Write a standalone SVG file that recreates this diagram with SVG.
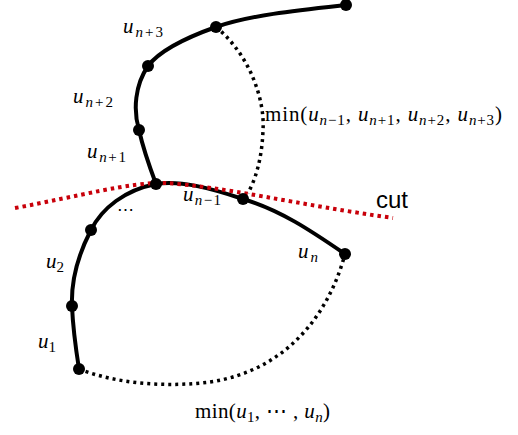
<svg xmlns="http://www.w3.org/2000/svg" width="518" height="435" viewBox="0 0 518 435">
<style>
.curve{fill:none;stroke:#000;stroke-width:4;stroke-linecap:round}
.dot{fill:none;stroke:#000;stroke-width:3.5;stroke-dasharray:3 4}
.cut{fill:none;stroke:#c8000a;stroke-width:4;stroke-dasharray:3.5 4}
.node{fill:#000}
.m{font-family:"Liberation Serif","DejaVu Serif",serif;font-style:italic;font-size:21px;fill:#000}
.r{font-style:normal}
.s{font-size:15px}
.cutlbl{font-family:"Liberation Sans",Arial,sans-serif;font-size:24px;fill:#000}
</style>
<rect width="518" height="435" fill="#fff"/>
<g id="connectors">
<path class="curve" d="M346,5 C300,10 250,15 216,27 C185,38 160,50 148,66 C135,85 133,110 139,130 C143,148 150,168 156,184"/>
<path class="curve" d="M345,254 C310,230 280,210 243,199 C210,188 180,180 156,184 C125,190 102,208 91,230 C78,255 71,280 72,306 C73,330 76,350 79,369"/>
<path class="dot" d="M216,27 C250,55 265,100 263,130 C262,160 255,180 248,193"/>
<path class="dot" d="M79,369 C120,385 170,387 210,382 C290,370 330,310 345,254"/>
<path class="cut" d="M15,208 C80,196 130,182 165,183 C220,186 300,205 393,218"/>
</g>
<g id="n-end"><circle class="node" cx="346" cy="5" r="6"/></g>
<g id="n-un3"><circle class="node" cx="216" cy="27" r="6"/><text class="m" x="123" y="33" textLength="40" lengthAdjust="spacing">u<tspan class="s" dy="4">n</tspan><tspan class="s r">+3</tspan></text></g>
<g id="n-un2"><circle class="node" cx="148" cy="66" r="6"/><text class="m" x="73" y="103" textLength="40" lengthAdjust="spacing">u<tspan class="s" dy="4">n</tspan><tspan class="s r">+2</tspan></text></g>
<g id="n-un1"><circle class="node" cx="139" cy="130" r="6"/><text class="m" x="87" y="158" textLength="39" lengthAdjust="spacing">u<tspan class="s" dy="4">n</tspan><tspan class="s r">+1</tspan></text></g>
<g id="n-junction"><circle class="node" cx="156" cy="184" r="6"/><text class="m r" x="117" y="215" style="font-size:17px">⋯</text></g>
<g id="n-unm1"><circle class="node" cx="243" cy="199" r="6"/><text class="m" x="183" y="201" textLength="38" lengthAdjust="spacing">u<tspan class="s" dy="4">n</tspan><tspan class="s r">−1</tspan></text></g>
<g id="n-un"><circle class="node" cx="345" cy="254" r="6"/><text class="m" x="298" y="258" textLength="20" lengthAdjust="spacing">u<tspan class="s" dy="4">n</tspan></text></g>
<g id="n-u2"><circle class="node" cx="91" cy="230" r="6"/><text class="m" x="46" y="268" textLength="18" lengthAdjust="spacing">u<tspan class="s r" dy="4">2</tspan></text></g>
<g id="n-u1"><circle class="node" cx="72" cy="306" r="6"/><text class="m" x="38" y="348" textLength="18" lengthAdjust="spacing">u<tspan class="s r" dy="4">1</tspan></text></g>
<g id="n-start"><circle class="node" cx="79" cy="369" r="6"/></g>
<g id="labels">
<text class="m" x="265" y="121" textLength="237" lengthAdjust="spacing"><tspan class="r">min(</tspan>u<tspan class="s" dy="4">n</tspan><tspan class="s r">−1</tspan><tspan class="r" dy="-4">, </tspan>u<tspan class="s" dy="4">n</tspan><tspan class="s r">+1</tspan><tspan class="r" dy="-4">, </tspan>u<tspan class="s" dy="4">n</tspan><tspan class="s r">+2</tspan><tspan class="r" dy="-4">, </tspan>u<tspan class="s" dy="4">n</tspan><tspan class="s r">+3</tspan><tspan class="r" dy="-4">)</tspan></text>
<text class="cutlbl" x="376" y="208">cut</text>
<text class="m" x="195" y="418" textLength="135" lengthAdjust="spacing"><tspan class="r">min(</tspan>u<tspan class="s r" dy="4">1</tspan><tspan class="r" dy="-4">, ⋯ , </tspan>u<tspan class="s" dy="4">n</tspan><tspan class="r" dy="-4">)</tspan></text>
</g>
</svg>
